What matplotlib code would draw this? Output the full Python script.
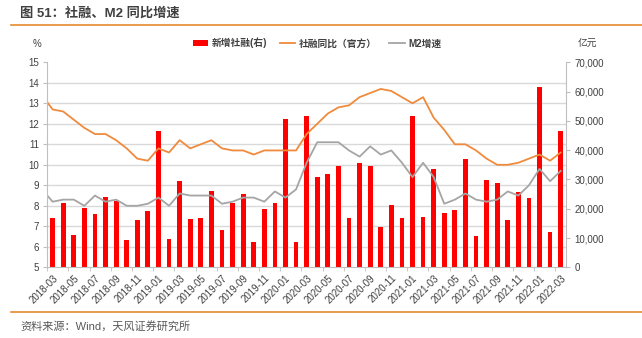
import numpy as np
import matplotlib
matplotlib.use("Agg")
import matplotlib.pyplot as plt
from matplotlib.ticker import FuncFormatter, MultipleLocator

plt.rcParams['font.family'] = ['Liberation Sans', 'Noto Sans CJK SC']

# months shown on the axis (bars), 2018-03 .. 2022-03
months = ["2018-03", "2018-04", "2018-05", "2018-06", "2018-07", "2018-08", "2018-09",
          "2018-10", "2018-11", "2018-12", "2019-01", "2019-02", "2019-03", "2019-04",
          "2019-05", "2019-06", "2019-07", "2019-08", "2019-09", "2019-10", "2019-11",
          "2019-12", "2020-01", "2020-02", "2020-03", "2020-04", "2020-05", "2020-06",
          "2020-07", "2020-08", "2020-09", "2020-10", "2020-11", "2020-12", "2021-01",
          "2021-02", "2021-03", "2021-04", "2021-05", "2021-06", "2021-07", "2021-08",
          "2021-09", "2021-10", "2021-11", "2021-12", "2022-01", "2022-02", "2022-03"]

# 新增社融, 亿元
tsf_new = [16960, 22080, 11150, 20260, 18320, 24010, 22760, 9330, 16050, 19120,
           46660, 9560, 29360, 16500, 16960, 26170, 12750, 21960, 24920, 8540,
           19800, 21960, 50530, 8540, 51670, 30840, 31750, 34600, 16730, 35730,
           34600, 13770, 21280, 16960, 51670, 17070, 33680, 18550, 19460, 36990,
           10580, 29700, 28910, 16050, 25830, 23560, 61680, 12180, 46430]

# the two lines start one month earlier (2018-02), cut off at the left edge
tsf_yoy = [13.4, 12.7, 12.6, 12.2, 11.8, 11.5, 11.5, 11.2, 10.8, 10.3, 10.2,
           10.8, 10.6, 11.2, 10.8, 11.0, 11.2, 10.8, 10.7, 10.7, 10.5, 10.7,
           10.7, 10.7, 10.7, 11.5, 12.0, 12.5, 12.8, 12.9, 13.3, 13.5, 13.7,
           13.6, 13.3, 13.0, 13.3, 12.3, 11.7, 11.0, 11.0, 10.7, 10.3, 10.0,
           10.0, 10.1, 10.3, 10.5, 10.2, 10.6]
m2_yoy = [8.8, 8.2, 8.3, 8.3, 8.0, 8.5, 8.2, 8.3, 8.0, 8.0, 8.1,
          8.4, 8.0, 8.6, 8.5, 8.5, 8.5, 8.1, 8.2, 8.4, 8.4, 8.2,
          8.7, 8.4, 8.8, 10.1, 11.1, 11.1, 11.1, 10.7, 10.4, 10.9, 10.5,
          10.7, 10.1, 9.4, 10.1, 9.4, 8.1, 8.3, 8.6, 8.3, 8.2, 8.3,
          8.7, 8.5, 9.0, 9.8, 9.2, 9.7]

x = np.arange(len(months))
xl = np.arange(len(tsf_yoy)) - 1

red = "#FF0000"
orange = "#F08A3C"
grey = "#A5A5A5"
txt = "#404040"
axc = "#BFBFBF"

fig = plt.figure(figsize=(6.42, 3.38), dpi=100)
axb = fig.add_axes([0.0737, 0.2092, 0.8079, 0.6065])
axl = axb.twinx()

# bars on the right axis
axb.bar(x, tsf_new, width=0.45, color=red, zorder=2, label="新增社融(右)")
axb.set_ylim(0, 70000)
axb.yaxis.tick_right()
axb.yaxis.set_major_locator(MultipleLocator(10000))
axb.yaxis.set_major_formatter(FuncFormatter(lambda v, p: f"{int(v):,}"))
# grid lines follow the left axis (1 pt = 7000 on the right)
axb.yaxis.set_minor_locator(MultipleLocator(7000))
axb.grid(which='minor', axis='y', color="#D9D9D9", lw=1.0)
axb.set_axisbelow(True)
axb.tick_params(axis='y', which='major', length=3, color=axc, labelsize=7, labelcolor=txt, pad=3)
axb.tick_params(axis='y', which='minor', length=0)

# lines on the left axis
axl.plot(xl, tsf_yoy, color=orange, lw=1.3, label="社融同比（官方）")
axl.plot(xl, m2_yoy, color=grey, lw=1.3, label="M2增速")
axl.set_ylim(5, 15)
axl.yaxis.tick_left()
axl.yaxis.set_major_locator(MultipleLocator(1))
axl.tick_params(axis='y', length=3, color=axc, labelsize=7, labelcolor=txt, pad=3)

axb.set_xlim(-0.5, len(months) - 0.5)
axb.set_xticks(x[::2])
axb.set_xticklabels(months[::2], rotation=45, ha='right', rotation_mode='anchor')
axb.set_xticks(np.arange(-0.5, len(months), 2), minor=True)
axb.tick_params(axis='x', which='major', length=0, labelsize=7, labelcolor=txt, pad=4)
axb.tick_params(axis='x', which='minor', length=3, color=axc)

for ax in (axb, axl):
    ax.spines['top'].set_visible(False)
    for s in ('left', 'right', 'bottom'):
        ax.spines[s].set_color(axc)
axl.spines['right'].set_visible(False)
axl.spines['bottom'].set_visible(False)
axb.spines['left'].set_visible(False)

h1, l1 = axb.get_legend_handles_labels()
h2, l2 = axl.get_legend_handles_labels()
fig.legend(h1 + h2, l1 + l2, loc='center', bbox_to_anchor=(317 / 642, 1 - 43 / 338),
           ncol=3, frameon=False, prop={'size': 7, 'weight': 'bold'},
           handlelength=1.6, handleheight=0.5, columnspacing=1.3,
           handletextpad=0.35, labelcolor=txt)

fig.text(37 / 642, 1 - 44 / 338, "%", fontsize=7, color=txt, ha='center', va='center')
fig.text(587 / 642, 1 - 44 / 338, "亿元", fontsize=7, color=txt, ha='center', va='center')

fig.text(20 / 642, 1 - 13 / 338, "图 51：社融、M2 同比增速", fontsize=9.5, fontweight='bold',
         color="#404040", va='center', ha='left')
fig.add_artist(plt.Line2D([11 / 642, 1.0], [1 - 25 / 338, 1 - 25 / 338], color="#E58A2E", lw=1.2))
fig.add_artist(plt.Line2D([11 / 642, 1.0], [1 - 312 / 338, 1 - 312 / 338], color="#E58A2E", lw=1.2))
fig.text(20 / 642, 1 - 326 / 338, "资料来源：Wind，天风证券研究所", fontsize=8, color="#595959",
         va='center', ha='left')

fig.savefig("out.png", dpi=100)
